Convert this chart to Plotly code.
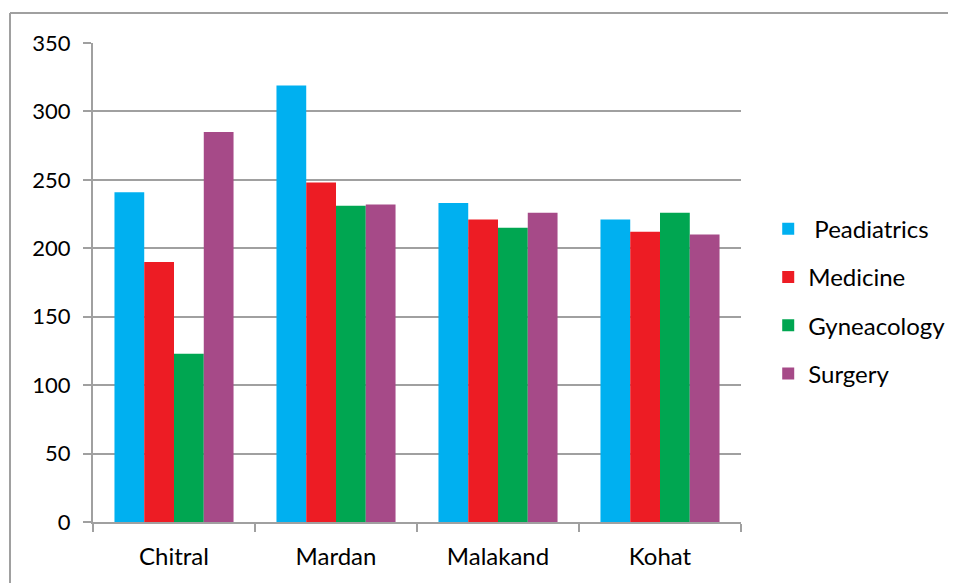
import plotly.graph_objects as go

categories = ["Chitral", "Mardan", "Malakand", "Kohat"]
series_names = [" Peadiatrics", "Medicine", "Gyneacology", "Surgery"]
peadiatrics = [241, 319, 233, 221]
medicine = [190, 248, 221, 212]
gyneacology = [123, 231, 215, 226]
surgery = [285, 232, 226, 210]
colors = ["#00B0F0", "#ED1C24", "#00A651", "#A64A88"]
y_ticks = [0, 50, 100, 150, 200, 250, 300, 350]

values = [peadiatrics, medicine, gyneacology, surgery]

fig = go.Figure()
for i, (name, vals) in enumerate(zip(series_names, values)):
    fig.add_trace(go.Bar(
        x=categories, y=vals, name=name, marker_color=colors[i],
        marker_line_width=0, legendgroup=f"g{i}",
    ))

FONT = "Lato, 'Open Sans', sans-serif"
fig.update_layout(
    width=948, height=575,
    margin=dict(l=85, r=215, t=35, b=61, autoexpand=False),
    paper_bgcolor="white", plot_bgcolor="white",
    barmode="group", bargap=0.265, bargroupgap=0,
    font=dict(family=FONT, size=20, color="#000000"),
    showlegend=True,
    legend=dict(x=1.042, y=0.461, xanchor="left", yanchor="middle",
                font=dict(size=24, family=FONT), tracegroupgap=14,
                itemwidth=30, bgcolor="rgba(0,0,0,0)"),
    xaxis=dict(
        showline=True, linecolor="#A0A0A0", linewidth=2,
        ticks="outside", tickson="boundaries", ticklen=8, tickcolor="#A0A0A0", tickwidth=2,
        tickfont=dict(size=24, family=FONT), showgrid=False, ticklabelstandoff=12,
    ),
    yaxis=dict(
        range=[0, 350], tickvals=y_ticks,
        showline=True, linecolor="#A0A0A0", linewidth=2,
        ticks="outside", ticklen=8, tickcolor="#A0A0A0", tickwidth=2,
        showgrid=True, gridcolor="#A0A0A0", gridwidth=2,
        tickfont=dict(size=22, family=FONT), ticklabelstandoff=8,
        zeroline=False,
    ),
)

# outer chart border (partly off-canvas, as in the reference)
fig.add_shape(type="line", xref="paper", yref="paper",
              x0=-83/648, x1=1.4, y0=509/479, y1=509/479,
              line=dict(color="#A0A0A0", width=2))
fig.add_shape(type="line", xref="paper", yref="paper",
              x0=-83/648, x1=-83/648, y0=509/479, y1=-0.3,
              line=dict(color="#A0A0A0", width=2))

fig.write_html("out.html")
